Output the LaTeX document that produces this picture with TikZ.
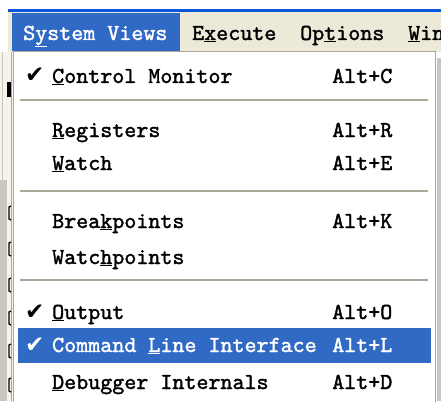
\documentclass[tikz,border=0pt]{standalone}
\usepackage{fontspec}
\usepackage{xcolor}
\usepackage{tikz}
\usetikzlibrary{positioning}
\newfontfamily\menufont{lmmono10-regular}[Extension=.otf, FakeBold=1.6]
\newfontfamily\symfont{DejaVu Sans}
\definecolor{xptitle}{RGB}{10,86,220}
\definecolor{xpbar}{RGB}{236,233,216}
\definecolor{xpblue}{RGB}{49,106,197}
\definecolor{xpsep}{RGB}{172,168,153}
\definecolor{xpedge}{RGB}{200,198,190}
\newcommand{\acc}[1]{\underline{#1}}

\begin{document}
\begin{tikzpicture}[x=1pt, y=-1pt,
  entry/.style={font=\menufont\fontsize{22.9}{23}\selectfont, inner sep=0pt, anchor=base west},
  tick/.style={font=\symfont\fontsize{23}{23}\selectfont, inner sep=0pt, anchor=base west},
  sepline/.style={draw=xpsep, line width=1.2pt}
]
  \useasboundingbox (0,0) rectangle (441,401);
  \fill[white] (0,0) rectangle (441,401);

  % title bar edge, menu bar and the open "System Views" title
  \fill[xptitle] (8,9) rectangle (441,12);
  \fill[xpbar] (8,12) rectangle (441,52);
  \fill[xpblue] (12,13) rectangle (180,51);
  \node[entry, text=white] (sysviews) at (23,40) {S\acc{y}stem Views};
  \node[entry] (execute) at (192,40) {E\acc{x}ecute};
  \node[entry] (options) at (300,40) {Op\acc{t}ions};
  \begin{scope}
    \clip (0,0) rectangle (441,52);
    \node[entry] (window) at (408,40) {\acc{W}indow};
  \end{scope}

  % window behind the menu
  \fill[xpbar!55] (0,52) rectangle (13,401);
  \fill[xpedge] (0,180) rectangle (7,401);
  \draw[xpedge, line width=1pt] (2.5,52) -- (2.5,180);
  \draw[gray!70, line width=1.5pt] (11.5,52) -- (11.5,401);
  \fill[black] (7,82) rectangle (11,97);
  \foreach \y in {213,249,285,318,351,385}
    \draw[line width=1.3pt] (11,\y-7) -- (9,\y-6) -- (9,\y+6) -- (11,\y+7);
  \fill[xpedge] (437,58) rectangle (441,401);

  % drop-down panel
  \filldraw[fill=white, draw=xpsep, line width=1.2pt] (13.5,51.5) rectangle (435.5,410);
  \foreach \y in {100,191,280}
    \draw[sepline] (20,\y) -- (428,\y);
  \fill[xpblue] (18,328) rectangle (431,363);

  \foreach \nm/\lbl/\key/\y in {ctrl/{\acc{C}ontrol Monitor}/C/83,
                               regs/{\acc{R}egisters}/R/137,
                               watch/{\acc{W}atch}/E/170,
                               brk/{Brea\acc{k}points}/K/228,
                               outp/{\acc{O}utput}/O/319,
                               dbg/{\acc{D}ebugger Internals}/D/389}
  {
    \node[entry] (\nm) at (52,\y) {\lbl};
    \node[entry] (\nm key) at (332,\y) {Alt+\key};
  }
  \node[entry] (wpts) at (52,264) {Watc\acc{h}points};
  \node[entry, text=white] (cli) at (52,352) {Command \acc{L}ine Interface};
  \node[entry, text=white] (clikey) at (332,352) {Alt+L};

  % check marks
  \node[tick] (ctrlchk) at (25,83) {✔};
  \node[tick] (outpchk) at (25,319) {✔};
  \node[tick, text=white] (clichk) at (25,352) {✔};
\end{tikzpicture}
\end{document}
